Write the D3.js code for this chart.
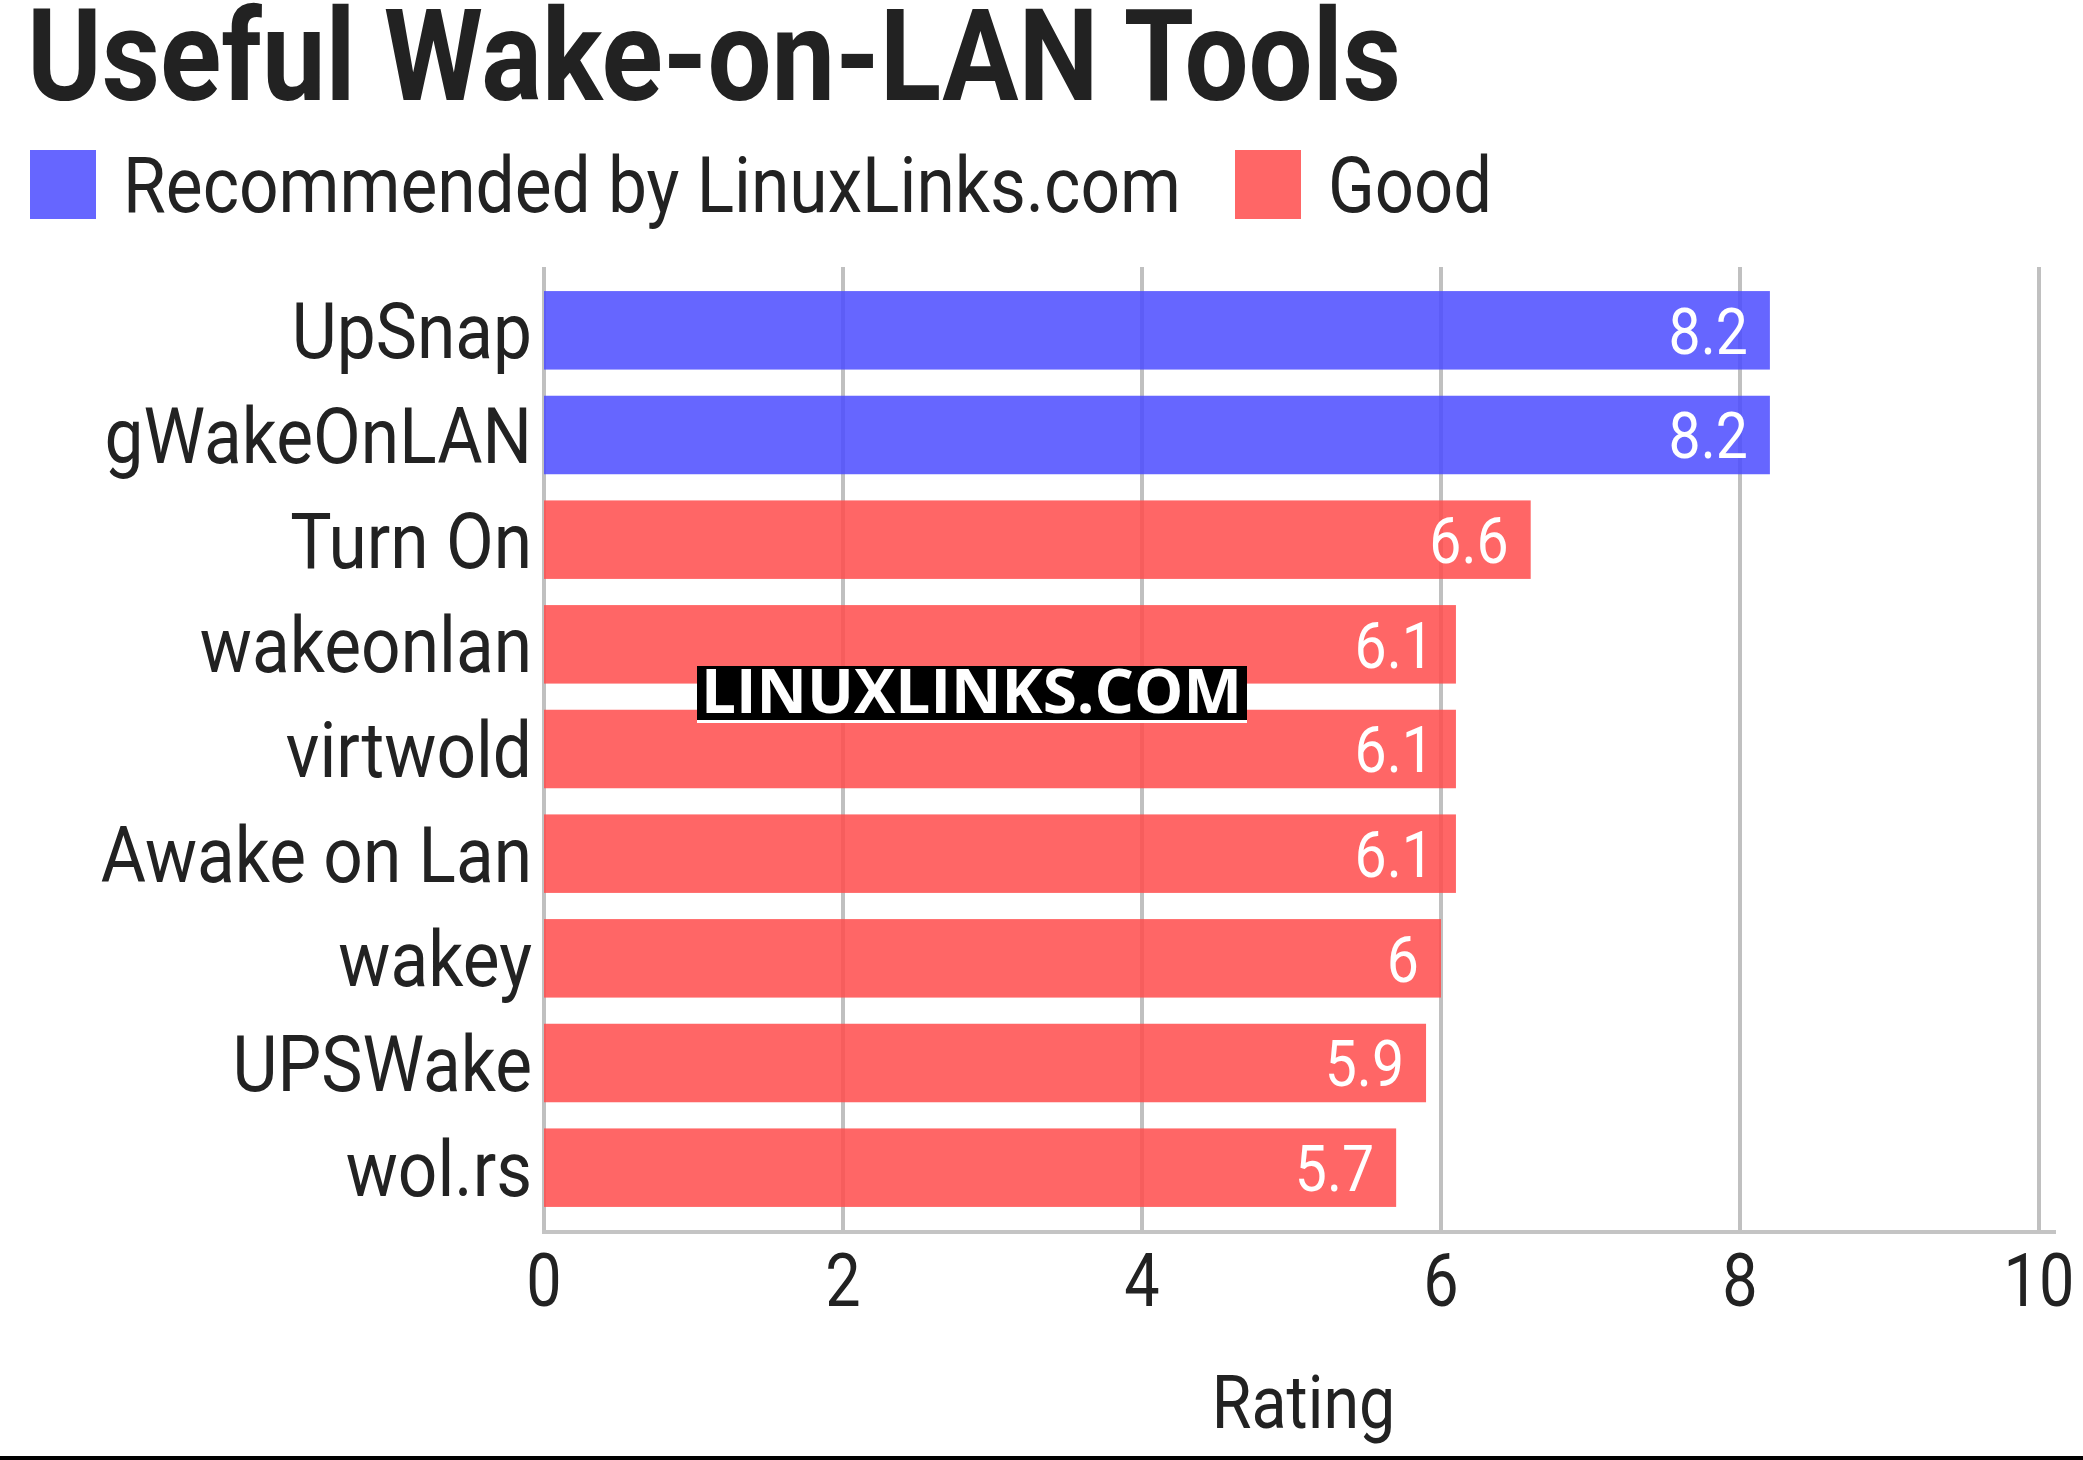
<!DOCTYPE html>
<html>
<head>
<meta charset="utf-8">
<script src="https://cdn.jsdelivr.net/npm/d3@7"></script>
<style>
  body { margin: 0; background: #fff; }
  svg text { font-family: Roboto, "Noto Sans", sans-serif; }
</style>
</head>
<body>
<div id="chart"></div>
<script>
// Chart data
const tools = ["UpSnap", "gWakeOnLAN", "Turn On", "wakeonlan", "virtwold", "Awake on Lan", "wakey", "UPSWake", "wol.rs"];
const ratings = [8.2, 8.2, 6.6, 6.1, 6.1, 6.1, 6.0, 5.9, 5.7];
const groups = ["rec", "rec", "good", "good", "good", "good", "good", "good", "good"];
const legendLabels = ["Recommended by LinuxLinks.com", "Good"];
const xTicks = [0, 2, 4, 6, 8, 10];

const data = tools.map((t, i) => ({ name: t, value: ratings[i], group: groups[i] }));

const W = 2083, H = 1460;
const margin = { top: 267, right: 44, bottom: 229, left: 544 };
const width = 2039 - margin.left;
const height = H - margin.top - margin.bottom;

// legend colours, and slightly stronger bar fills that are drawn at 0.85 opacity
const color = d3.scaleOrdinal().domain(["rec", "good"]).range(["#6666ff", "#ff6666"]);
const barColor = d3.scaleOrdinal().domain(["rec", "good"]).range(["#4b4bff", "#ff4b4b"]);

// squeeze text horizontally to look like a condensed face
function condense(sel, k) {
    sel.each(function() {
        const w = this.getComputedTextLength();
        d3.select(this).attr("textLength", w * k).attr("lengthAdjust", "spacingAndGlyphs");
    });
}

const svg = d3.select("#chart")
    .append("svg")
    .attr("width", W)
    .attr("height", H);

// Title
svg.append("text")
    .attr("x", 27)
    .attr("y", 100)
    .style("font-size", "128px")
    .style("font-weight", "bold")
    .attr("fill", "#222")
    .text("Useful Wake-on-LAN Tools")
    .attr("textLength", 1374)
    .attr("lengthAdjust", "spacingAndGlyphs");

// Legend
const legendX = [30, 1235];
const legendW = [1058, 164];
legendLabels.forEach((lab, i) => {
    svg.append("rect")
        .attr("x", legendX[i])
        .attr("y", 150)
        .attr("width", 66)
        .attr("height", 69)
        .attr("fill", color.range()[i]);
    svg.append("text")
        .attr("x", legendX[i] + 93)
        .attr("y", 212)
        .style("font-size", "77px")
        .attr("fill", "#222")
        .text(lab)
        .attr("textLength", legendW[i])
        .attr("lengthAdjust", "spacingAndGlyphs");
});

const g = svg.append("g")
    .attr("transform", `translate(${margin.left},${margin.top})`);

const x = d3.scaleLinear().domain([0, 10]).range([0, width]);
const y = d3.scaleBand().domain(tools).range([0, height]).paddingInner(0.25).paddingOuter(0.23);

// Gridlines (under the semi-transparent bars)
g.selectAll("line.grid")
    .data(xTicks)
    .enter().append("line")
    .attr("class", "grid")
    .attr("x1", d => x(d))
    .attr("x2", d => x(d))
    .attr("y1", 0)
    .attr("y2", height)
    .attr("stroke", "#c0c0c0")
    .attr("stroke-width", 4);

// Bars
g.selectAll("rect.bar")
    .data(data)
    .enter().append("rect")
    .attr("class", "bar")
    .attr("x", 0)
    .attr("y", d => y(d.name))
    .attr("width", d => x(d.value))
    .attr("height", y.bandwidth())
    .attr("fill", d => barColor(d.group))
    .attr("fill-opacity", 0.85);

// Bottom axis line
g.append("line")
    .attr("x1", -2)
    .attr("x2", width + 17)
    .attr("y1", height + 1)
    .attr("y2", height + 1)
    .attr("stroke", "#c4c4c4")
    .attr("stroke-width", 4);

// Value labels
g.selectAll("text.val")
    .data(data)
    .enter().append("text")
    .attr("class", "val")
    .attr("x", d => x(d.value) - 22)
    .attr("y", d => y(d.name) + y.bandwidth() / 2)
    .attr("dy", "0.36em")
    .attr("text-anchor", "end")
    .style("font-size", "65px")
    .attr("fill", "#fff")
    .text(d => d3.format("~g")(d.value))
    .call(condense, 0.88);

// Category labels
g.selectAll("text.cat")
    .data(data)
    .enter().append("text")
    .attr("class", "cat")
    .attr("x", -12)
    .attr("y", d => y(d.name) + y.bandwidth() / 2)
    .attr("dy", "0.36em")
    .attr("text-anchor", "end")
    .style("font-size", "78px")
    .attr("fill", "#222")
    .text(d => d.name)
    .call(condense, 0.89);

// X tick labels
g.selectAll("text.tick")
    .data(xTicks)
    .enter().append("text")
    .attr("class", "tick")
    .attr("x", d => x(d))
    .attr("y", height + 75)
    .attr("text-anchor", "middle")
    .style("font-size", "75px")
    .attr("fill", "#222")
    .text(d => d)
    .call(condense, 0.84);

// X axis title
g.append("text")
    .attr("x", width / 2 + 12)
    .attr("y", height + 197)
    .attr("text-anchor", "middle")
    .style("font-size", "75px")
    .attr("fill", "#222")
    .text("Rating")
    .call(condense, 0.86);

// Watermark
svg.append("rect")
    .attr("x", 697).attr("y", 666)
    .attr("width", 550).attr("height", 57)
    .attr("fill", "#fff");
svg.append("rect")
    .attr("x", 697).attr("y", 666)
    .attr("width", 550).attr("height", 54)
    .attr("fill", "#000");
svg.append("text")
    .attr("x", 701)
    .attr("y", 713)
    .style("font-family", "'Open Sans', sans-serif")
    .style("font-size", "60px")
    .style("font-weight", "bold")
    .attr("fill", "#fff")
    .text("LINUXLINKS.COM")
    .attr("textLength", 541)
    .attr("lengthAdjust", "spacingAndGlyphs");

// Bottom rule
svg.append("line")
    .attr("x1", 0).attr("x2", W)
    .attr("y1", 1458).attr("y2", 1458)
    .attr("stroke", "#000")
    .attr("stroke-width", 4);
</script>
</body>
</html>
